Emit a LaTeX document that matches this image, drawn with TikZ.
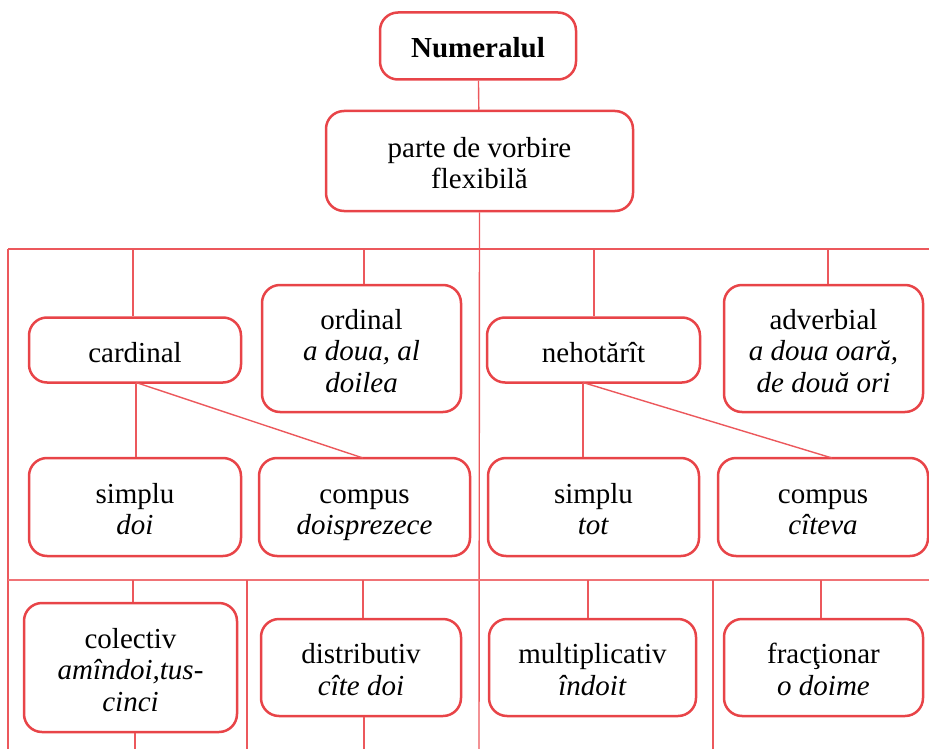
\documentclass[tikz,border=0pt]{standalone}
\usepackage{fontspec}
\setmainfont{Liberation Serif}[ItalicFont={Liberation Serif Italic},BoldFont={Liberation Serif Bold}]
\definecolor{boxc}{RGB}{232,68,72}
\definecolor{linec}{RGB}{236,88,92}
\definecolor{linel}{RGB}{240,115,118}
\newcommand{\Atop}{\rule{0pt}{31pt}}
\newcommand{\Zbot}{\rule[-7pt]{0pt}{7pt}}
\begin{document}
\begin{tikzpicture}[x=1pt,y=-1pt,
  box/.style={draw=boxc,line width=2.5pt,rounded corners=18pt,align=center,inner sep=0pt,
    font=\fontsize{29}{31.5}\selectfont},
  conn/.style={draw=linec,line width=1.4pt},
  band/.style={draw=linel,line width=2pt}]
\useasboundingbox (0,0) rectangle (929,749);
% nodes
\node[box,minimum width=196pt,minimum height=67pt] (num) at (478,46) {\Atop\textbf{Numeralul}\Zbot};
\node[box,minimum width=307pt,minimum height=100pt] (parte) at (479.5,161) {\Atop parte de vorbire\\flexibilă\Zbot};
\node[box,minimum width=212pt,minimum height=65pt] (card) at (135,350) {\Atop cardinal\Zbot};
\node[box,minimum width=199pt,minimum height=127pt] (ord) at (361.5,348.5) {\Atop ordinal\\\textit{a doua, al}\\\textit{doilea}\Zbot};
\node[box,minimum width=213pt,minimum height=65pt] (neh) at (593.5,350) {\Atop nehotărît\Zbot};
\node[box,minimum width=199pt,minimum height=127pt] (adv) at (823.5,348.5) {\Atop adverbial\\\textit{a doua oară,}\\\textit{de două ori}\Zbot};
\node[box,minimum width=212pt,minimum height=98pt] (s1) at (135,507) {\Atop simplu\\\textit{doi}\Zbot};
\node[box,minimum width=211pt,minimum height=98pt] (c1) at (364.5,507) {\Atop compus\\\textit{doisprezece}\Zbot};
\node[box,minimum width=211pt,minimum height=98pt] (s2) at (593.5,507) {\Atop simplu\\\textit{tot}\Zbot};
\node[box,minimum width=210pt,minimum height=98pt] (c2) at (823,507) {\Atop compus\\\textit{cîteva}\Zbot};
\node[box,minimum width=213pt,minimum height=129pt] (col) at (130.5,667.5) {\Atop colectiv\\\textit{amîndoi,tus-}\\\textit{cinci}\Zbot};
\node[box,minimum width=200pt,minimum height=97pt] (dist) at (361,667.5) {\Atop distributiv\\\textit{cîte doi}\Zbot};
\node[box,minimum width=207pt,minimum height=97pt] (mult) at (592.5,667.5) {\Atop multiplicativ\\\textit{îndoit}\Zbot};
\node[box,minimum width=199pt,minimum height=97pt] (frac) at (823.5,667.5) {\Atop fracţionar\\\textit{o doime}\Zbot};
% coordinates
\coordinate (tl) at (8,249);
\coordinate (tr) at (929,249);
\coordinate (ml) at (8,580);
\coordinate (mr) at (929,580);
\coordinate (bl) at (8,749);
\coordinate (spine) at (479,749);
\coordinate (v1t) at (247,580);
\coordinate (v1b) at (247,749);
\coordinate (v2t) at (713,580);
\coordinate (v2b) at (713,749);
\coordinate (dcard) at (133,249);
\coordinate (dord) at (364,249);
\coordinate (dneh) at (594,249);
\coordinate (dadv) at (828,249);
\coordinate (dcol) at (133,580);
\coordinate (dcolb) at (135,749);
\coordinate (ddist) at (363,580);
\coordinate (ddistb) at (364,749);
\coordinate (dmult) at (588,580);
\coordinate (dfrac) at (821,580);
\coordinate (cj) at (136,382.5);
\coordinate (cjr) at (363,458);
\coordinate (nj) at (583,382.5);
\coordinate (njr) at (832,458);
% connectors
\draw[conn] (num) -- (parte);
\draw[conn] (parte.south) -- (spine);
\draw[conn] (tl) -- (tr);
\draw[conn] (tl) -- (bl);
\draw[band] (ml) -- (mr);
\draw[conn] (v1t) -- (v1b);
\draw[conn] (v2t) -- (v2b);
\draw[conn] (dcard) -- (dcard |- card.north);
\draw[conn] (dord) -- (dord |- ord.north);
\draw[conn] (dneh) -- (dneh |- neh.north);
\draw[conn] (dadv) -- (dadv |- adv.north);
\draw[conn] (cj) -- (cj |- s1.north);
\draw[conn] (cj) -- (cjr);
\draw[conn] (nj) -- (nj |- s2.north);
\draw[conn] (nj) -- (njr);
\draw[conn] (dcol) -- (dcol |- col.north);
\draw[conn] (dcolb |- col.south) -- (dcolb);
\draw[conn] (ddist) -- (ddist |- dist.north);
\draw[conn] (ddistb |- dist.south) -- (ddistb);
\draw[conn] (dmult) -- (dmult |- mult.north);
\draw[conn] (dfrac) -- (dfrac |- frac.north);
\end{tikzpicture}
\end{document}
